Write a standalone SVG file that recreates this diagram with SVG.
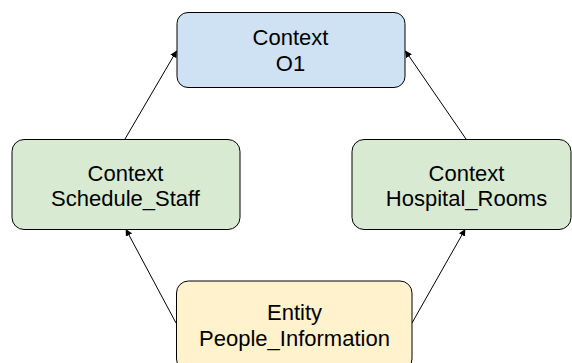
<svg xmlns="http://www.w3.org/2000/svg" width="572" height="363" viewBox="0 0 572 363">
<defs>
<marker id="arr" viewBox="0 0 10 10" refX="9" refY="5" markerWidth="7" markerHeight="7" markerUnits="userSpaceOnUse" orient="auto">
<path d="M0,0 L10,5 L0,10 z" fill="#000"/>
</marker>
<style>
.box{stroke:#000;stroke-width:1}
.blue{fill:#cfe2f3}
.green{fill:#d9ead3}
.yellow{fill:#fff2cc}
.t{font-family:"Liberation Sans",Arial,sans-serif;font-size:22px;fill:#000;text-anchor:middle}
.c{stroke:#000;stroke-width:1;fill:none;marker-end:url(#arr)}
</style>
</defs>
<rect width="572" height="363" fill="#fff"/>
<g id="connectors">
<line class="c" x1="125" y1="139" x2="176.5" y2="51"/>
<line class="c" x1="466" y1="139" x2="405.5" y2="51"/>
<line class="c" x1="176" y1="323" x2="126" y2="229.5"/>
<line class="c" x1="412" y1="323" x2="465" y2="229.5"/>
</g>
<g id="o1">
<rect class="box blue" x="177" y="12.5" width="228" height="75" rx="11"/>
<text class="t" x="290.5" y="45">Context</text>
<text class="t" x="290.5" y="71">O1</text>
</g>
<g id="schedule_staff">
<rect class="box green" x="12" y="139.5" width="228" height="90" rx="12"/>
<text class="t" x="125.5" y="181">Context</text>
<text class="t" x="125.5" y="205.5">Schedule_Staff</text>
</g>
<g id="hospital_rooms">
<rect class="box green" x="352" y="139.5" width="219" height="90" rx="12"/>
<text class="t" x="466.5" y="181">Context</text>
<text class="t" x="466.5" y="205.5">Hospital_Rooms</text>
</g>
<g id="people_information">
<rect class="box yellow" x="176.5" y="281" width="235.5" height="90" rx="12"/>
<text class="t" x="294.5" y="320">Entity</text>
<text class="t" x="294.5" y="346">People_Information</text>
</g>
</svg>
